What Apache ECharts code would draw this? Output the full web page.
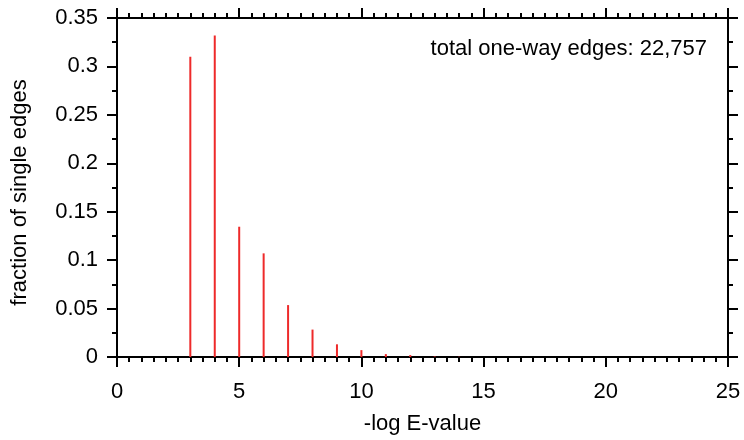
<!DOCTYPE html>
<html>
<head>
<meta charset="utf-8">
<script src="https://cdn.jsdelivr.net/npm/echarts@6/dist/echarts.min.js"></script>
<style>html,body{margin:0;padding:0;background:#fff}#c{width:744px;height:440px}</style>
</head>
<body>
<div id="c"></div>
<script>
var xValues = [3, 4, 5, 6, 7, 8, 9, 10, 11, 12, 13, 14];
var fractions = [0.310, 0.332, 0.1345, 0.107, 0.0536, 0.0283, 0.0131, 0.0071, 0.003, 0.002, 0.0006, 0.0003];
var xTicks = [0, 5, 10, 15, 20, 25];
var yTicks = [0, 0.05, 0.1, 0.15, 0.2, 0.25, 0.3, 0.35];
var xTitle = '-log E-value';
var yTitle = 'fraction of single edges';
var note = 'total one-way edges: 22,757';

var FONT = 'Liberation Sans, Arial, Helvetica, sans-serif';
var FS = 22;
var line = {show: true, onZero: false, lineStyle: {color: '#000', width: 2}};
var tick = {show: true, length: 10, lineStyle: {color: '#000', width: 2}};
var minor = {show: true, splitNumber: 10, length: 5, lineStyle: {color: '#000', width: 2}};

function xAx(pos, labels) {
  return {
    type: 'value', position: pos, min: xTicks[0], max: xTicks[xTicks.length - 1], interval: 5,
    axisLine: line, axisTick: tick, minorTick: minor, splitLine: {show: false}, minorSplitLine: {show: false},
    axisLabel: labels ? {show: true, color: '#000', fontSize: FS, fontFamily: FONT, margin: 24} : {show: false},
    name: labels ? xTitle : '', nameLocation: 'middle', nameGap: 56,
    nameTextStyle: {color: '#000', fontSize: FS, fontFamily: FONT}
  };
}
function yAx(pos, labels) {
  return {
    type: 'value', position: pos, min: yTicks[0], max: yTicks[yTicks.length - 1], interval: 0.05,
    axisLine: line, axisTick: tick, minorTick: {show: true, splitNumber: 2, length: 5, lineStyle: {color: '#000', width: 2}},
    splitLine: {show: false}, minorSplitLine: {show: false},
    axisLabel: labels ? {show: true, color: '#000', fontSize: FS, fontFamily: FONT, margin: 19,
      formatter: function (v) { return String(Math.round(v * 100) / 100); }} : {show: false},
    name: labels ? yTitle : '', nameLocation: 'middle', nameGap: 86, nameRotate: 90,
    nameTextStyle: {color: '#000', fontSize: FS, fontFamily: FONT, padding: [0, 10, 0, 0]}
  };
}

var chart = echarts.init(document.getElementById('c'), null, {renderer: 'canvas'});
chart.setOption({
  animation: false,
  backgroundColor: '#fff',
  grid: {left: 117, right: 16, top: 18, bottom: 76, containLabel: false},
  xAxis: [xAx('bottom', true), xAx('top', false)],
  yAxis: [yAx('left', true), yAx('right', false)],
  graphic: [{
    type: 'text', right: 37, top: 38,
    style: {text: note, fill: '#000', fontSize: FS, fontFamily: FONT}
  }],
  series: [{
    type: 'bar', xAxisIndex: 0, yAxisIndex: 0, barWidth: 2,
    itemStyle: {color: '#ee2a2a'},
    data: xValues.map(function (x, i) { return [x, fractions[i]]; })
  }]
});
</script>
</body>
</html>
